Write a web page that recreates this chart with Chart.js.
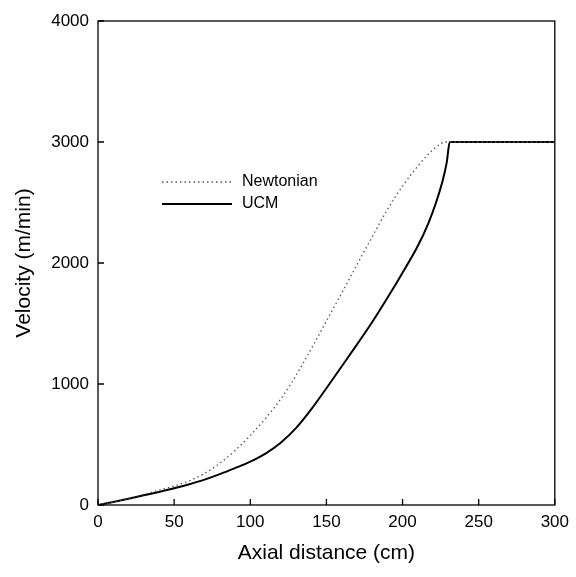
<!DOCTYPE html>
<html>
<head>
<meta charset="utf-8">
<script src="https://cdn.jsdelivr.net/npm/chart.js@4"></script>
<style>
  html, body { margin: 0; padding: 0; background: #fff; }
  #wrap { width: 576px; height: 577px; }
</style>
</head>
<body>
<div id="wrap"><canvas id="grafico" width="576" height="577"></canvas></div>
<script>
// dados
const distanciaNewt = [0, 10, 20, 30, 40, 50, 60, 70, 80, 90, 100, 110, 120, 130, 140, 150, 160, 170, 180, 190, 200, 210, 217, 223, 228, 250, 275, 300];
const newtoniano = [0, 25, 55, 88, 122, 157, 200, 262, 345, 450, 575, 715, 875, 1070, 1290, 1520, 1750, 1985, 2215, 2440, 2635, 2800, 2900, 2968, 3000, 3000, 3000, 3000];
const distanciaUcm = [0, 10, 20, 30, 40, 50, 60, 70, 80, 90, 100, 110, 120, 130, 140, 150, 160, 170, 180, 190, 200, 210, 217, 222, 226, 229, 231, 250, 275, 300];
const ucm = [0, 25, 52, 80, 108, 138, 172, 210, 255, 305, 358, 425, 515, 635, 790, 965, 1145, 1325, 1510, 1710, 1920, 2140, 2330, 2500, 2665, 2830, 3000, 3000, 3000, 3000];
const ticksX = [0, 50, 100, 150, 200, 250, 300];
const ticksY = [0, 1000, 2000, 3000, 4000];

const fonte = "'Liberation Sans', Arial, sans-serif";

function pontos(xs, ys) {
  return xs.map((x, i) => ({ x: x, y: ys[i] }));
}

// moldura + ticks para dentro
const moldura = {
  id: 'moldura',
  afterDraw(chart) {
    const c = chart.ctx;
    const a = chart.chartArea;
    const sx = chart.scales.x;
    const sy = chart.scales.y;
    c.save();
    c.strokeStyle = '#000';
    c.lineWidth = 1.3;
    c.strokeRect(a.left, a.top, a.right - a.left, a.bottom - a.top);
    c.beginPath();
    ticksX.forEach(v => {
      const px = sx.getPixelForValue(v);
      c.moveTo(px, a.bottom);
      c.lineTo(px, a.bottom - 6);
    });
    ticksY.forEach(v => {
      const py = sy.getPixelForValue(v);
      c.moveTo(a.left, py);
      c.lineTo(a.left + 6, py);
    });
    c.stroke();

    // legenda dentro do gráfico
    const itens = chart.data.datasets;
    c.font = '16px ' + fonte;
    c.fillStyle = '#000';
    c.textBaseline = 'middle';
    itens.forEach((ds, i) => {
      const y = 182 + i * 22;
      c.beginPath();
      c.strokeStyle = ds.borderColor;
      c.lineWidth = ds.borderWidth;
      c.setLineDash(ds.borderDash || []);
      c.moveTo(162, y);
      c.lineTo(232, y);
      c.stroke();
      c.setLineDash([]);
      c.fillText(ds.label, 242, y);
    });
    c.restore();
  }
};

const ctx = document.getElementById('grafico').getContext('2d');
new Chart(ctx, {
  type: 'line',
  data: {
    datasets: [
      {
        label: 'Newtonian',
        data: pontos(distanciaNewt, newtoniano),
        borderColor: '#555',
        borderWidth: 1.3,
        borderDash: [1.5, 3],
        pointRadius: 0,
        fill: false,
        cubicInterpolationMode: 'monotone'
      },
      {
        label: 'UCM',
        data: pontos(distanciaUcm, ucm),
        borderColor: '#000',
        borderWidth: 2,
        pointRadius: 0,
        fill: false,
        cubicInterpolationMode: 'monotone'
      }
    ]
  },
  options: {
    responsive: false,
    animation: false,
    layout: { padding: { top: 21, right: 14, left: 8, bottom: 0 } },
    plugins: {
      legend: { display: false },
      tooltip: { enabled: false }
    },
    scales: {
      x: {
        type: 'linear',
        min: 0,
        max: 300,
        afterBuildTicks: s => { s.ticks = ticksX.map(v => ({ value: v })); },
        afterFit: s => { s.height = 72; },
        grid: { display: false, drawTicks: false },
        border: { display: false },
        ticks: { color: '#000', font: { family: fonte, size: 17 }, padding: 7, maxRotation: 0, callback: v => String(v) },
        title: { display: true, text: 'Axial distance (cm)', color: '#000', font: { family: fonte, size: 21 }, padding: { top: 4, bottom: 11 } }
      },
      y: {
        min: 0,
        max: 4000,
        afterBuildTicks: s => { s.ticks = ticksY.map(v => ({ value: v })); },
        afterFit: s => { s.width = 90; },
        grid: { display: false, drawTicks: false },
        border: { display: false },
        ticks: { color: '#000', font: { family: fonte, size: 17 }, padding: 9, callback: v => String(v) },
        title: { display: true, text: 'Velocity (m/min)', color: '#000', font: { family: fonte, size: 21 }, padding: { bottom: 4 } }
      }
    }
  },
  plugins: [moldura]
});
</script>
</body>
</html>
